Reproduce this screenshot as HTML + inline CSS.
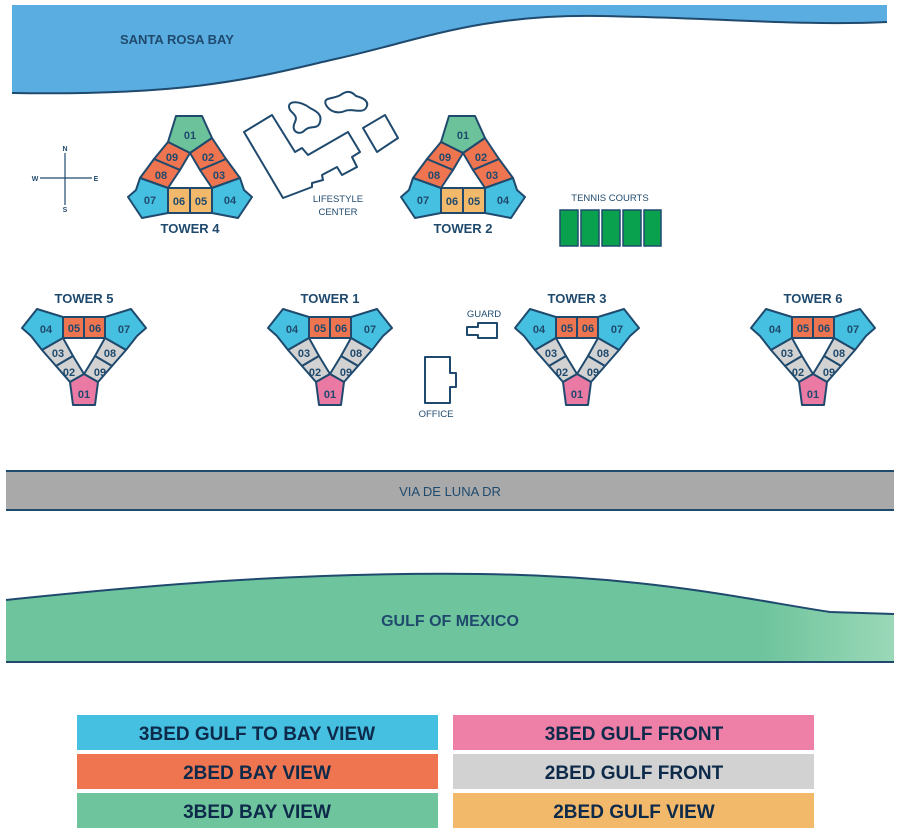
<!DOCTYPE html>
<html><head><meta charset="utf-8"><style>
body{margin:0;background:#fff;width:900px;height:837px;overflow:hidden;font-family:"Liberation Sans",sans-serif}
svg{display:block}
</style></head><body>
<svg width="900" height="837" viewBox="0 0 900 837" xmlns="http://www.w3.org/2000/svg" font-family="Liberation Sans, sans-serif">
<defs>
<linearGradient id="gg" x1="0" x2="1"><stop offset="0.85" stop-color="#6ec49c"/><stop offset="1" stop-color="#9ad8b8"/></linearGradient>
<g id="tri" stroke="#1f4a6e" stroke-width="2" stroke-linejoin="round">
<polygon points="176,116 202,116 212,138 190,153 168,142" fill="#6cc29a"/>
<polygon points="168,142 190,153 180,170 154,159" fill="#ee7550"/>
<polygon points="154,159 180,170 168,188 140,178" fill="#ee7550"/>
<polygon points="212,138 190,153 200,170 226,159" fill="#ee7550"/>
<polygon points="226,159 200,170 212,188 240,178" fill="#ee7550"/>
<polygon points="168,188 190,188 190,213 168,213" fill="#f3b96b"/>
<polygon points="190,188 212,188 212,213 190,213" fill="#f3b96b"/>
<polygon points="140,178 168,188 168,213 142,218 128,197 136,190" fill="#45c0e0"/>
<polygon points="240,178 212,188 212,213 238,218 252,197 244,190" fill="#45c0e0"/>
<g fill="#1f4a6e" stroke="none" font-size="11" font-weight="bold" text-anchor="middle">
<text x="190" y="139">01</text><text x="172" y="161">09</text><text x="208" y="161">02</text>
<text x="161" y="179">08</text><text x="219" y="179">03</text>
<text x="150" y="204">07</text><text x="179" y="205">06</text><text x="201" y="205">05</text><text x="230" y="204">04</text>
</g></g>
<g id="vee" stroke="#1f4a6e" stroke-width="2" stroke-linejoin="round">
<polygon points="22,328 37,309 63,317 63,338 42,350 31,336" fill="#45c0e0"/>
<polygon points="146,328 131,309 105,317 105,338 126,350 137,336" fill="#45c0e0"/>
<polygon points="63,317 84,317 84,338 63,338" fill="#ee7550"/>
<polygon points="84,317 105,317 105,338 84,338" fill="#ee7550"/>
<polygon points="42,350 63,338 73,356 56,366" fill="#d2d2d2"/>
<polygon points="56,366 73,356 84,374 70,382" fill="#d2d2d2"/>
<polygon points="126,350 105,338 95,356 112,366" fill="#d2d2d2"/>
<polygon points="112,366 95,356 84,374 98,382" fill="#d2d2d2"/>
<polygon points="84,374 70,382 73,405 95,405 98,382" fill="#ea7aa3"/>
<g fill="#1f4a6e" stroke="none" font-size="11" font-weight="bold" text-anchor="middle">
<text x="46" y="333">04</text><text x="74" y="332">05</text><text x="95" y="332">06</text><text x="124" y="333">07</text>
<text x="58" y="357">03</text><text x="110" y="357">08</text><text x="69" y="376">02</text><text x="100" y="376">09</text>
<text x="84" y="398">01</text>
</g></g>
</defs>
<path d="M12,5 L887,5 L887,22 C800,26 720,18 600,16 C480,14 420,40 340,58 C260,76 200,96 12,93 Z" fill="#59ade0"/>
<path d="M12,93 C200,96 260,76 340,58 C420,40 480,14 600,16 C720,18 800,26 887,22" fill="none" stroke="#1f4a6e" stroke-width="2"/>
<text x="120" y="44" font-size="13" font-weight="bold" fill="#1f4a6e">SANTA ROSA BAY</text>
<g stroke="#1f4a6e" stroke-width="1.2"><line x1="40" y1="178" x2="92" y2="178"/><line x1="65" y1="153" x2="65" y2="205"/></g>
<g fill="#1f4a6e" font-size="7" font-weight="bold" text-anchor="middle"><text x="65" y="151">N</text><text x="65" y="212">S</text><text x="35" y="181">W</text><text x="96" y="181">E</text></g>
<use href="#tri"/>
<use href="#tri" transform="translate(273,0)"/>
<g fill="#1f4a6e" font-size="13" font-weight="bold" text-anchor="middle"><text x="190" y="233">TOWER 4</text><text x="463" y="233">TOWER 2</text>
<text x="84" y="303">TOWER 5</text><text x="330" y="303">TOWER 1</text><text x="577" y="303">TOWER 3</text><text x="813" y="303">TOWER 6</text></g>
<g fill="none" stroke="#1f4a6e" stroke-width="2" stroke-linejoin="round">
<polygon points="244,132 272,115 295,152 302,148 308,155 348,132 360,152 352,157 357,167 342,175 337,167 322,175 323,180 312,183 312,187 283,198"/>
<polygon points="363,128 385,115 398,138 377,152"/>
<path d="M290,110 C285,100 300,100 310,108 C318,112 322,115 320,122 C318,130 310,125 305,130 C300,136 290,132 295,122 C298,116 293,114 290,110 Z"/>
<path d="M326,105 C322,96 335,100 342,94 C348,90 352,92 356,96 C364,98 370,102 366,108 C362,114 352,108 345,111 C338,114 330,112 326,105 Z"/>
<polygon points="467,327 478,327 478,323 497,323 497,338 478,338 478,335 467,335"/>
<polygon points="425,357 450,357 450,373 456,373 456,387 450,387 450,403 425,403"/>
</g>
<g fill="#1f4a6e" font-size="9.5" text-anchor="middle"><text x="338" y="202">LIFESTYLE</text><text x="338" y="215">CENTER</text>
<text x="610" y="201">TENNIS COURTS</text><text x="484" y="317">GUARD</text><text x="436" y="417">OFFICE</text></g>
<g fill="#0aa14e" stroke="#1f4a6e" stroke-width="1.5"><rect x="560" y="210" width="18" height="36"/><rect x="581" y="210" width="18" height="36"/><rect x="602" y="210" width="18" height="36"/><rect x="623" y="210" width="18" height="36"/><rect x="644" y="210" width="17" height="36"/></g>
<use href="#vee"/>
<use href="#vee" transform="translate(246,0)"/>
<use href="#vee" transform="translate(493,0)"/>
<use href="#vee" transform="translate(729,0)"/>
<rect x="6" y="471" width="888" height="39" fill="#a9a9a9"/>
<line x1="6" y1="471" x2="894" y2="471" stroke="#1f4a6e" stroke-width="2"/><line x1="6" y1="510" x2="894" y2="510" stroke="#1f4a6e" stroke-width="2"/>
<text x="450" y="496" font-size="13" fill="#1f4a6e" text-anchor="middle">VIA DE LUNA DR</text>
<path d="M6,600 C150,585 300,572 480,574 C650,576 750,600 830,612 L894,614 L894,662 L6,662 Z" fill="url(#gg)"/>
<path d="M6,600 C150,585 300,572 480,574 C650,576 750,600 830,612 L894,614" fill="none" stroke="#1f4a6e" stroke-width="2"/>
<line x1="6" y1="662" x2="894" y2="662" stroke="#1f4a6e" stroke-width="2"/>
<text x="450" y="626" font-size="16" font-weight="bold" fill="#1f4a6e" text-anchor="middle">GULF OF MEXICO</text>
<rect x="77" y="715" width="361" height="35" fill="#45c0e0"/>
<rect x="77" y="754" width="361" height="35" fill="#ee7550"/>
<rect x="77" y="793" width="361" height="35" fill="#6ec49c"/>
<rect x="453" y="715" width="361" height="35" fill="#ee7fa6"/>
<rect x="453" y="754" width="361" height="35" fill="#d2d2d2"/>
<rect x="453" y="793" width="361" height="35" fill="#f3b96b"/>
<g fill="#0e2a4a" font-size="19" font-weight="bold" text-anchor="middle">
<text x="257" y="740">3BED GULF TO BAY VIEW</text><text x="257" y="779">2BED BAY VIEW</text><text x="257" y="818">3BED BAY VIEW</text>
<text x="634" y="740">3BED GULF FRONT</text><text x="634" y="779">2BED GULF FRONT</text><text x="634" y="818">2BED GULF VIEW</text></g>
</svg>
</body></html>
